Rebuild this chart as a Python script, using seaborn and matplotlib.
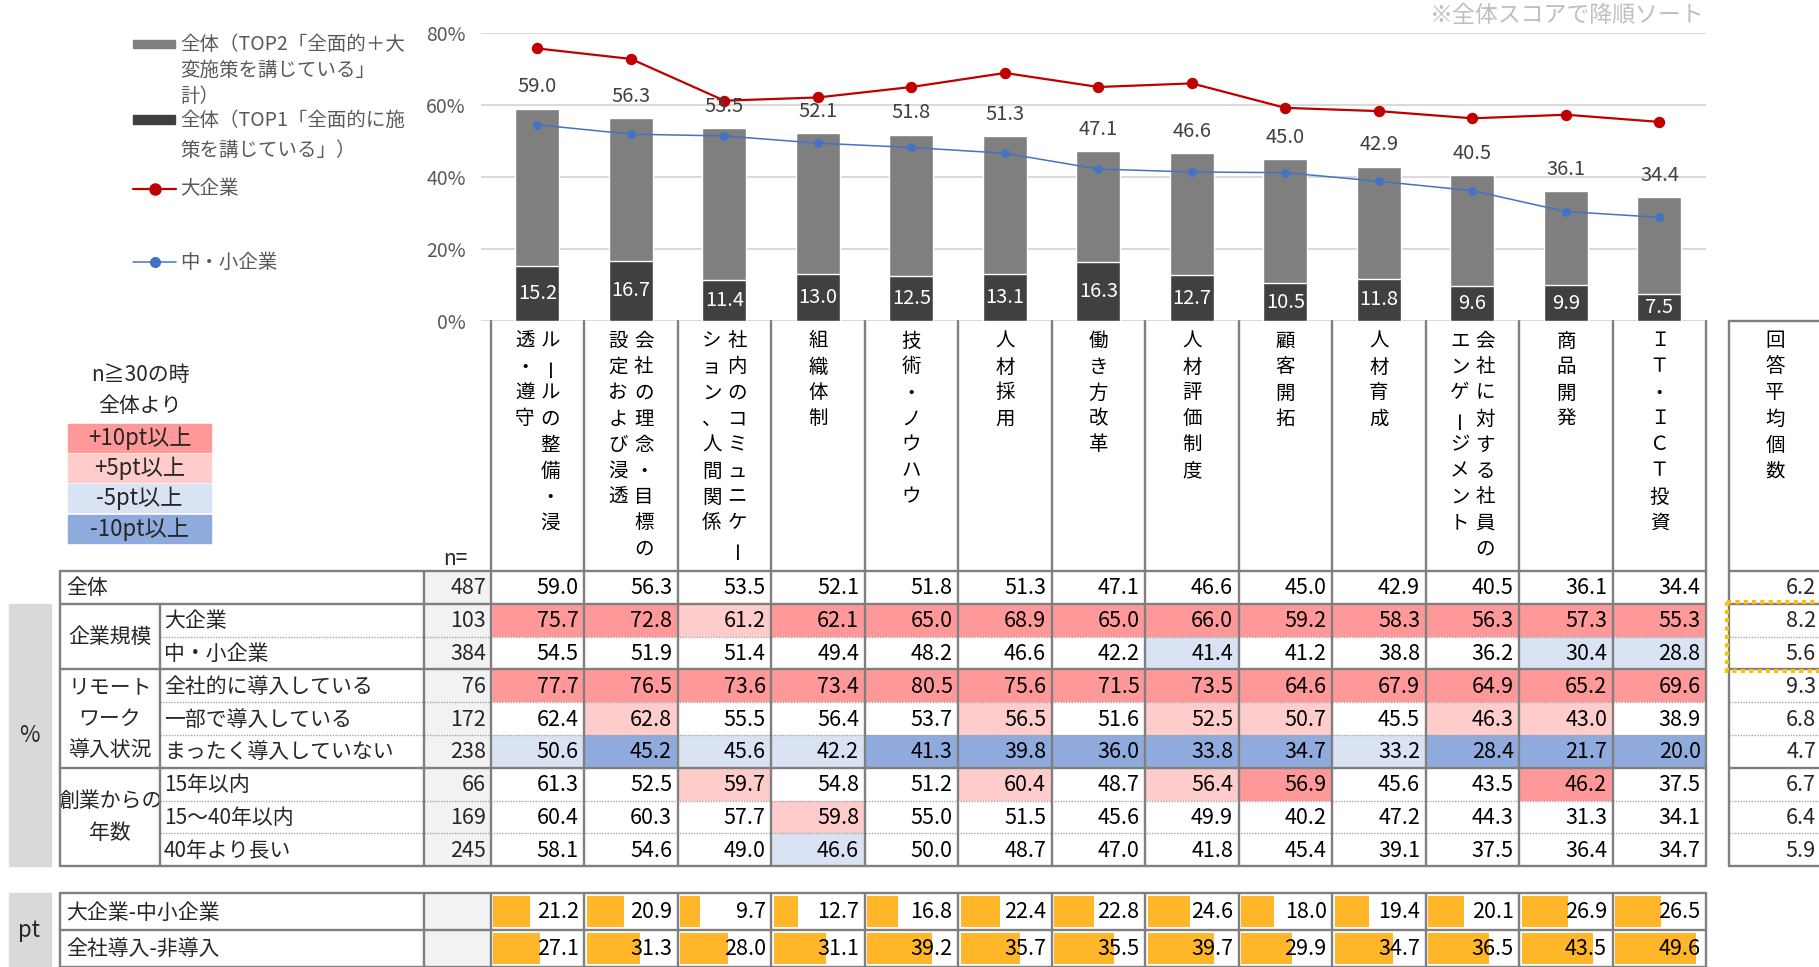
import numpy as np
import pandas as pd
import matplotlib
matplotlib.use("Agg")
import matplotlib.pyplot as plt
import seaborn as sns
from matplotlib.colors import ListedColormap
from matplotlib.patches import Rectangle

# ---------------- data ----------------
categories = [
    "ルールの整備・浸\n透・遵守",
    "会社の理念・目標の\n設定および浸透",
    "社内のコミュニケー\nション、人間関係",
    "組織体制",
    "技術・ノウハウ",
    "人材採用",
    "働き方改革",
    "人材評価制度",
    "顧客開拓",
    "人材育成",
    "会社に対する社員の\nエンゲージメント",
    "商品開発",
    "ＩＴ・ＩＣＴ投資",
]
top2_all = [59.0, 56.3, 53.5, 52.1, 51.8, 51.3, 47.1, 46.6, 45.0, 42.9, 40.5, 36.1, 34.4]
top1_all = [15.2, 16.7, 11.4, 13.0, 12.5, 13.1, 16.3, 12.7, 10.5, 11.8, 9.6, 9.9, 7.5]
large_ent = [75.7, 72.8, 61.2, 62.1, 65.0, 68.9, 65.0, 66.0, 59.2, 58.3, 56.3, 57.3, 55.3]
sme_ent = [54.5, 51.9, 51.4, 49.4, 48.2, 46.6, 42.2, 41.4, 41.2, 38.8, 36.2, 30.4, 28.8]
remote_full = [77.7, 76.5, 73.6, 73.4, 80.5, 75.6, 71.5, 73.5, 64.6, 67.9, 64.9, 65.2, 69.6]
remote_part = [62.4, 62.8, 55.5, 56.4, 53.7, 56.5, 51.6, 52.5, 50.7, 45.5, 46.3, 43.0, 38.9]
remote_none = [50.6, 45.2, 45.6, 42.2, 41.3, 39.8, 36.0, 33.8, 34.7, 33.2, 28.4, 21.7, 20.0]
age_within15 = [61.3, 52.5, 59.7, 54.8, 51.2, 60.4, 48.7, 56.4, 56.9, 45.6, 43.5, 46.2, 37.5]
age_15to40 = [60.4, 60.3, 57.7, 59.8, 55.0, 51.5, 45.6, 49.9, 40.2, 47.2, 44.3, 31.3, 34.1]
age_over40 = [58.1, 54.6, 49.0, 46.6, 50.0, 48.7, 47.0, 41.8, 45.4, 39.1, 37.5, 36.4, 34.7]
n_values = [487, 103, 384, 76, 172, 238, 66, 169, 245]
avg_count = [6.2, 8.2, 5.6, 9.3, 6.8, 4.7, 6.7, 6.4, 5.9]
diff_size = [21.2, 20.9, 9.7, 12.7, 16.8, 22.4, 22.8, 24.6, 18.0, 19.4, 20.1, 26.9, 26.5]
diff_remote = [27.1, 31.3, 28.0, 31.1, 39.2, 35.7, 35.5, 39.7, 29.9, 34.7, 36.5, 43.5, 49.6]

row_labels = ["全体", "大企業", "中・小企業", "全社的に導入している", "一部で導入している",
              "まったく導入していない", "15年以内", "15～40年以内", "40年より長い"]
group_labels = ["企業規模", "リモート\nワーク\n導入状況", "創業からの\n年数"]
pt_labels = ["大企業-中小企業", "全社導入-非導入"]
legend_top2_lines = ["全体（TOP2「全面的＋大", "変施策を講じている」", "計）"]
legend_top1_lines = ["全体（TOP1「全面的に施", "策を講じている」）"]
legend_large = "大企業"
legend_sme = "中・小企業"
color_key_labels = ["+10pt以上", "+5pt以上", "-5pt以上", "-10pt以上"]
avg_header = "回答平均個数"
yticks = [0, 20, 40, 60, 80]

# ---------------- layout ----------------
W, H = 1819, 967
sns.set_theme(style="white")
plt.rcParams["font.family"] = ["Noto Sans CJK JP", "DejaVu Sans"]
fig = plt.figure(figsize=(W / 100, H / 100), dpi=100)


def px_axes(x0, y0, x1, y1):
    return fig.add_axes([x0 / W, 1 - y1 / H, (x1 - x0) / W, (y1 - y0) / H])


COL_L, COL_W, NC = 490.7, 93.5, len(categories)
COL_R = COL_L + NC * COL_W
PLOT_T, PLOT_B = 33, 321
ROW_T, ROW_H = 571, 32.8
NR = len(row_labels)
ROW_B = ROW_T + NR * ROW_H
PT_T, PT_H = 893, 37
AVG_L = 1729
LINE_C = "#7f7f7f"
C_PINK2, C_PINK1, C_BLUE1, C_BLUE2 = "#ff9999", "#ffcccc", "#dae3f3", "#8faadc"
NUM_FS = 15.5

# ---------------- chart ----------------
ax = px_axes(481, PLOT_T, COL_R, PLOT_B)
df = pd.DataFrame({"cat": categories, "top2": top2_all, "top1": top1_all,
                   "large": large_ent, "sme": sme_ent})
sns.barplot(data=df, x="cat", y="top2", color="#7f7f7f", saturation=1, width=0.47,
            edgecolor="white", linewidth=1, ax=ax)
sns.barplot(data=df, x="cat", y="top1", color="#404040", saturation=1, width=0.47,
            edgecolor="white", linewidth=1, ax=ax)
sns.pointplot(data=df, x="cat", y="large", color="#c00000", markers="o", markersize=7,
              linewidth=1.6, errorbar=None, ax=ax)
sns.pointplot(data=df, x="cat", y="sme", color="#4472c4", markers="o", markersize=5.5,
              linewidth=1.1, errorbar=None, ax=ax)
ax.bar_label(ax.containers[0], labels=[f"{v:.1f}" for v in top2_all], padding=8,
             fontsize=14.5, color="#404040")
ax.bar_label(ax.containers[1], labels=[f"{v:.1f}" for v in top1_all], label_type="center",
             fontsize=14.5, color="white")
ax.set_ylim(0, 80)
ax.set_xlim(-0.5 - (COL_L - 481) / COL_W, NC - 0.5)
ax.set_yticks(yticks)
ax.set_yticklabels([f"{v}%" for v in yticks])
ax.yaxis.grid(True, color="#d9d9d9", lw=1.4)
ax.set_axisbelow(True)
ax.tick_params(axis="y", length=0, pad=11, labelsize=14, labelcolor="#595959")
ax.set_xticks([])
ax.set_xlabel("")
ax.set_ylabel("")
for s in ax.spines.values():
    s.set_visible(False)

# ---------------- % table (heatmap) ----------------
table = np.array([top2_all, large_ent, sme_ent, remote_full, remote_part, remote_none,
                  age_within15, age_15to40, age_over40])
diff = np.round(table - np.array(top2_all), 1)
codes = np.select([diff >= 10, diff >= 5, diff <= -10, diff <= -5], [2, 1, -2, -1], 0)
tax = px_axes(COL_L, ROW_T, COL_R, ROW_B)
sns.heatmap(codes, cmap=ListedColormap([C_BLUE2, C_BLUE1, "#ffffff", C_PINK1, C_PINK2]),
            vmin=-2.5, vmax=2.5, cbar=False, xticklabels=False, yticklabels=False,
            linewidths=0, ax=tax)
for i in range(NR):
    for j in range(NC):
        tax.text(j + 0.94, i + 0.53, f"{table[i, j]:.1f}", ha="right", va="center",
                 fontsize=NUM_FS, color="black")

# ---------------- pt table (data bars) ----------------
pax = px_axes(COL_L, PT_T, COL_R, PT_T + 2 * PT_H)
pax.set_xlim(0, NC)
pax.set_ylim(2, 0)
pax.axis("off")
pt_rows = [diff_size, diff_remote]
pt_max = max(max(r) for r in pt_rows)
for i, row in enumerate(pt_rows):
    vals = np.array(row)
    pax.bar(np.arange(NC) + 0.025, 0.86, width=0.05 + 0.82 * vals / pt_max, bottom=i + 0.07,
            align="edge", color="#ffb628", linewidth=0)
    for j, v in enumerate(vals):
        pax.text(j + 0.94, i + 0.52, f"{v:.1f}", ha="right", va="center", fontsize=NUM_FS,
                 color="black")

# ---------------- overlay (texts, grid lines, legends) ----------------
ov = fig.add_axes([0, 0, 1, 1])
ov.set_xlim(0, W)
ov.set_ylim(H, 0)
ov.axis("off")
ov.patch.set_alpha(0)
ov.set_zorder(10)

row_y = [ROW_T + k * ROW_H for k in range(NR + 1)]

# left grey bands
ov.add_patch(Rectangle((9, row_y[1]), 42, ROW_B - row_y[1], color="#d9d9d9", zorder=1))
ov.add_patch(Rectangle((9, PT_T), 42, 2 * PT_H, color="#d9d9d9", zorder=1))
ov.text(29, (row_y[1] + ROW_B) / 2, "%", ha="center", va="center", fontsize=16)
ov.text(29, PT_T + PT_H, "pt", ha="center", va="center", fontsize=16)

# n column background
ov.add_patch(Rectangle((424, ROW_T), COL_L - 424, ROW_B - ROW_T, color="#f2f2f2", zorder=1))
ov.add_patch(Rectangle((424, PT_T), COL_L - 424, 2 * PT_H, color="#f2f2f2", zorder=1))
ov.text(COL_L - 35, 559, "n=", ha="center", va="center", fontsize=15)

# row labels / n values / averages
for i, lab in enumerate(row_labels):
    yc = row_y[i] + ROW_H / 2 + 1
    ov.text(66 if i == 0 else 164, yc, lab, ha="left", va="center", fontsize=15)
    ov.text(486, yc, f"{n_values[i]}", ha="right", va="center", fontsize=NUM_FS)
    ov.text(1816, yc, f"{avg_count[i]:.1f}", ha="right", va="center", fontsize=NUM_FS)
group_rows = [(1, 3), (3, 6), (6, 9)]
for lab, (a, b) in zip(group_labels, group_rows):
    ov.text(110, (row_y[a] + row_y[b]) / 2, lab, ha="center", va="center", fontsize=15,
            linespacing=1.55)
for i, lab in enumerate(pt_labels):
    ov.text(66, PT_T + (i + 0.5) * PT_H + 1, lab, ha="left", va="center", fontsize=15)

# table lines
lk = dict(color=LINE_C, lw=1.7, zorder=3)
dk = dict(color="#a6a6a6", lw=1.0, ls=(0, (1, 1)), zorder=3)
for k in [0, 1, 3, 6, 9]:
    ov.plot([60, COL_R], [row_y[k]] * 2, **lk)
    ov.plot([AVG_L, W + 5], [row_y[k]] * 2, **lk)
for k in [2, 4, 5, 7, 8]:
    ov.plot([160, COL_R], [row_y[k]] * 2, **dk)
    ov.plot([AVG_L, W + 5], [row_y[k]] * 2, **dk)
ov.plot([60, 60], [ROW_T, ROW_B], **lk)
ov.plot([160, 160], [row_y[1], ROW_B], **lk)
ov.plot([424, 424], [ROW_T, ROW_B], **lk)
for k in range(NC + 1):
    ov.plot([COL_L + k * COL_W] * 2, [PLOT_B, ROW_B], **lk)
ov.plot([AVG_L, AVG_L], [PLOT_B, ROW_B], **lk)
ov.plot([AVG_L, W + 5], [PLOT_B, PLOT_B], **lk)
# pt table lines
for yy in [PT_T, PT_T + PT_H, PT_T + 2 * PT_H]:
    ov.plot([60, COL_R], [yy] * 2, **lk)
for xx in [60, 424] + [COL_L + k * COL_W for k in range(NC + 1)]:
    ov.plot([xx, xx], [PT_T, PT_T + 2 * PT_H], **lk)
# highlighted averages box
ov.add_patch(Rectangle((AVG_L - 2, row_y[1] - 2), 100, row_y[3] - row_y[1] + 4, fill=False,
                       edgecolor="#ffc000", lw=3, ls=(0, (1, 1)), zorder=4))


# vertical (tategaki) category headers
def vtext(x, y0, s, pitch=26, **kw):
    for k, ch in enumerate(s):
        rot = 90 if ch == "ー" else 0
        ov.text(x, y0 + k * pitch, ch, ha="center", va="center", rotation=rot, **kw)


for j, lab in enumerate(categories):
    cols = lab.split("\n")
    xc = COL_L + (j + 0.5) * COL_W
    offs = [0] if len(cols) == 1 else [12.8, -12.8]
    for c, o in zip(cols, offs):
        vtext(xc + o, 341, c, fontsize=14, color="black")
vtext(1775, 341, avg_header, fontsize=14, color="black")

# chart legend (top-left)
lc = "#595959"
ov.add_patch(Rectangle((133, 40), 42, 8, color="#7f7f7f"))
for k, t in enumerate(legend_top2_lines):
    ov.text(180, 44 + k * 26.5, t, ha="left", va="center", fontsize=14, color=lc)
ov.add_patch(Rectangle((133, 115), 42, 9, color="#404040"))
for k, t in enumerate(legend_top1_lines):
    ov.text(180, 120 + k * 30, t, ha="left", va="center", fontsize=14, color=lc)
ov.plot([133, 176], [189, 189], color="#c00000", lw=1.6)
ov.plot([155], [189], "o", color="#c00000", ms=8)
ov.text(180, 189, legend_large, ha="left", va="center", fontsize=14, color=lc)
ov.plot([133, 176], [262, 262], color="#4472c4", lw=1.1)
ov.plot([155], [262], "o", color="#4472c4", ms=7)
ov.text(180, 262, legend_sme, ha="left", va="center", fontsize=14, color=lc)

# colour key
ov.text(140, 375, "n≧30の時", ha="center", va="center", fontsize=15)
ov.text(140, 406, "全体より", ha="center", va="center", fontsize=15)
key_cols = [C_PINK2, C_PINK1, C_BLUE1, C_BLUE2]
key_top = [424, 454, 484, 515]
for lab, c, t in zip(color_key_labels, key_cols, key_top):
    ov.add_patch(Rectangle((68, t), 143, 28, color=c, zorder=1))
    ov.text(139.5, t + 14.5, lab, ha="center", va="center", fontsize=16)

# note
ov.text(1704, 16, "※全体スコアで降順ソート", ha="right", va="center", fontsize=16.5,
        color="#bfbfbf")

fig.savefig("out.png", dpi=100)
